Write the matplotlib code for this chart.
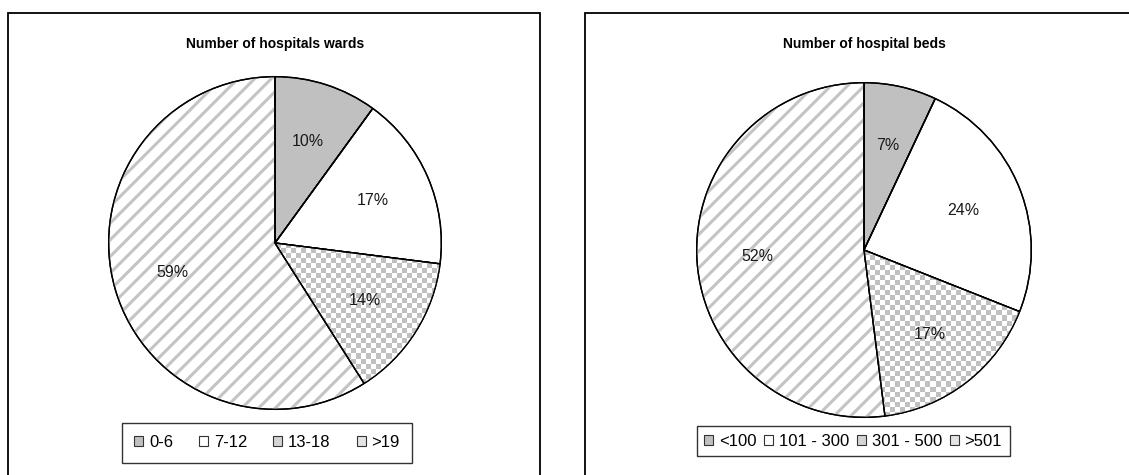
import numpy as np
import matplotlib
matplotlib.use("Agg")
import matplotlib.pyplot as plt
from matplotlib.patches import Wedge, Rectangle, Patch

plt.rcParams['font.family'] = ['Liberation Sans', 'DejaVu Sans']
plt.rcParams['hatch.linewidth'] = 2.2

# ---- data ----
wards_title = "Number of hospitals wards"
wards_labels = ["0-6", "7-12", "13-18", ">19"]
wards_values = [10, 17, 14, 59]

beds_title = "Number of hospital beds"
beds_labels = ["<100", "101 - 300", "301 - 500", ">501"]
beds_values = [7, 24, 17, 52]

W, H = 1129, 475
fig = plt.figure(figsize=(W / 100, H / 100), dpi=100)
fig.patch.set_facecolor('white')

GREY = '#c0c0c0'


def px_axes(cx, cy, r):
    # cx, cy in pixels from top-left
    return fig.add_axes([(cx - r) / W, (H - cy - r) / H, 2 * r / W, 2 * r / H])


def checker_image(n=64):
    yy, xx = np.mgrid[0:n, 0:n]
    board = ((xx + yy) % 2).astype(float)
    rgb = np.ones((n, n, 3))
    g = 0xc0 / 255
    rgb[board == 0] = [g, g, g]
    return rgb


def draw_pie(ax, values):
    wedges, texts, autotexts = ax.pie(
        values, startangle=90, counterclock=False, radius=1,
        colors=[GREY, 'white', 'white', 'white'],
        wedgeprops=dict(edgecolor='black', linewidth=1.0),
        autopct='%.0f%%', pctdistance=0.64,
        textprops=dict(fontsize=11.5, color='#1a1a1a'))
    # checker pattern on third slice
    img = ax.imshow(checker_image(66), extent=[-1, 1, -1, 1],
                    interpolation='nearest', zorder=2)
    img.set_clip_path(wedges[2])
    # diagonal stripes on fourth slice
    w = wedges[3]
    hatch = Wedge(w.center, w.r, w.theta1, w.theta2, facecolor='none',
                  edgecolor='#c4c4c4', linewidth=0, hatch='//', zorder=2)
    ax.add_patch(hatch)
    # redraw outlines
    for w in wedges:
        ax.add_patch(Wedge(w.center, w.r, w.theta1, w.theta2, facecolor='none',
                           edgecolor='black', linewidth=1.0, zorder=3))
    for t in autotexts:
        t.set_zorder(5)
    ax.set_xlim(-1.01, 1.01)
    ax.set_ylim(-1.01, 1.01)
    ax.set_aspect('auto')
    ax.axis('off')
    return wedges


def legend_handles():
    return [Patch(facecolor=GREY, edgecolor='#333333', linewidth=0.8),
            Patch(facecolor='white', edgecolor='#333333', linewidth=0.8),
            Patch(facecolor='#d4d4d4', edgecolor='#333333', linewidth=0.8),
            Patch(facecolor='#e4e4e4', edgecolor='#333333', linewidth=0.8)]


# panel frames
fig.add_artist(Rectangle((8 / W, -0.05), (540 - 8) / W, (H - 13) / H + 0.05,
                         transform=fig.transFigure, facecolor='none',
                         edgecolor='black', linewidth=1.3))
fig.add_artist(Rectangle((585 / W, -0.05), 0.6, (H - 13) / H + 0.05,
                         transform=fig.transFigure, facecolor='none',
                         edgecolor='black', linewidth=1.3))

common = dict(loc='center', ncol=4, fontsize=12, frameon=True, fancybox=False,
              handlelength=0.55, handleheight=0.55, handletextpad=0.35,
              borderaxespad=0)

# left pie
ax1 = px_axes(275, 243, 168)
draw_pie(ax1, wards_values)
fig.text(275 / W, 1 - 44 / H, wards_title, ha='center', va='center',
         fontsize=10, fontweight='bold')
leg1 = fig.legend(legend_handles(), wards_labels,
                  bbox_to_anchor=(267 / W, 1 - 442.5 / H),
                  columnspacing=1.55, borderpad=0.75, **common)
leg1.get_frame().set_edgecolor('black')
leg1.get_frame().set_linewidth(1.0)

# right pie
ax2 = px_axes(864, 250, 169)
draw_pie(ax2, beds_values)
fig.text(864 / W, 1 - 44 / H, beds_title, ha='center', va='center',
         fontsize=10, fontweight='bold')
leg2 = fig.legend(legend_handles(), beds_labels,
                  bbox_to_anchor=(853 / W, 1 - 441 / H),
                  columnspacing=0.45, borderpad=0.45, **common)
leg2.get_frame().set_edgecolor('black')
leg2.get_frame().set_linewidth(1.0)

fig.savefig('out.png', dpi=100)
